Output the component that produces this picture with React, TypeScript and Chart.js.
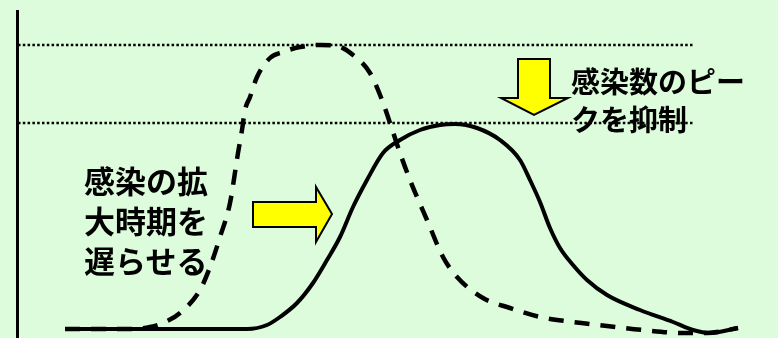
import React, { useEffect, useRef } from "react";
import { Chart, registerables } from "chart.js";

Chart.register(...registerables);

// Time (x) and number of infections (y) — arbitrary units
const noMeasuresX = [48, 83, 113, 133, 146, 163, 183, 193, 203, 213, 221, 225, 228, 233, 240, 253, 266, 283, 303, 320, 336, 353, 365, 373, 383, 393, 400, 410, 426, 440, 466, 493, 523, 556, 590, 626, 666, 690, 721];
const noMeasuresY = [9, 9, 9, 11, 15, 25, 48, 71, 101, 135, 185, 208, 228, 241, 261, 280, 286, 291, 293, 292, 283, 265, 238, 215, 185, 158, 141, 118, 81, 61, 40, 30, 21, 16, 12, 8, 5, 5, 10];

const withMeasuresX = [48, 133, 230, 250, 263, 280, 296, 310, 323, 336, 350, 366, 383, 403, 423, 438, 460, 483, 503, 513, 523, 533, 543, 556, 570, 590, 623, 656, 676, 693, 721];
const withMeasuresY = [9, 9, 9, 13, 21, 35, 55, 78, 101, 131, 158, 185, 198, 208, 213, 214, 210, 198, 178, 158, 136, 110, 90, 73, 58, 43, 28, 16, 8, 5, 10];

// Reference levels (peak without measures, peak with measures)
const referenceLevels = [293, 215];
const referenceXRange = [1, 676];

const leftText = ["感染の拡", "大時期を", "遅らせる"];
const rightText = ["感染数のピー", "クを抑制"];

// Arrow annotations in data units
const rightArrow = { x0: 236, x1: 299, tip: 315, yTop: 136, yBottom: 111, headTop: 151, headBottom: 96, tipY: 124 };
const downArrow = { x0: 501, x1: 533, headL: 484, headR: 551, tipX: 517, yTop: 279, yShaftEnd: 240, tipY: 223 };

const toPoints = (xs: number[], ys: number[]) => xs.map((x, i) => ({ x, y: ys[i] }));

const arrowPlugin = {
  id: "arrows",
  afterDatasetsDraw(chart: any) {
    const ctx = chart.ctx;
    const xs = chart.scales.x;
    const ys = chart.scales.y;
    const X = (v: number) => xs.getPixelForValue(v);
    const Y = (v: number) => ys.getPixelForValue(v);
    ctx.save();
    ctx.fillStyle = "#ffff00";
    ctx.strokeStyle = "#000000";
    ctx.lineWidth = 2;
    ctx.lineJoin = "miter";
    // right arrow
    const r = rightArrow;
    ctx.beginPath();
    ctx.moveTo(X(r.x0), Y(r.yTop));
    ctx.lineTo(X(r.x1), Y(r.yTop));
    ctx.lineTo(X(r.x1), Y(r.headTop));
    ctx.lineTo(X(r.tip), Y(r.tipY));
    ctx.lineTo(X(r.x1), Y(r.headBottom));
    ctx.lineTo(X(r.x1), Y(r.yBottom));
    ctx.lineTo(X(r.x0), Y(r.yBottom));
    ctx.closePath();
    ctx.fill();
    ctx.stroke();
    // down arrow
    const d = downArrow;
    ctx.beginPath();
    ctx.moveTo(X(d.x0), Y(d.yTop));
    ctx.lineTo(X(d.x1), Y(d.yTop));
    ctx.lineTo(X(d.x1), Y(d.yShaftEnd));
    ctx.lineTo(X(d.headR), Y(d.yShaftEnd));
    ctx.lineTo(X(d.tipX), Y(d.tipY));
    ctx.lineTo(X(d.headL), Y(d.yShaftEnd));
    ctx.lineTo(X(d.x0), Y(d.yShaftEnd));
    ctx.closePath();
    ctx.fill();
    ctx.stroke();
    ctx.restore();
  },
};

export default function App() {
  const ref = useRef<HTMLCanvasElement | null>(null);

  useEffect(() => {
    document.body.style.margin = "0";
    document.body.style.background = "#dcfcdc";
    const canvas = ref.current;
    if (!canvas) return;
    const chart = new Chart(canvas, {
      type: "line",
      data: {
        datasets: [
          ...referenceLevels.map((lvl) => ({
            data: toPoints(referenceXRange, [lvl, lvl]),
            borderColor: "#000000",
            borderWidth: 2.5,
            borderDash: [2.5, 2.3],
            pointRadius: 0,
            tension: 0,
          })),
          {
            data: toPoints(noMeasuresX, noMeasuresY),
            borderColor: "#000000",
            borderWidth: 4.5,
            borderDash: [15, 11],
            pointRadius: 0,
            cubicInterpolationMode: "monotone" as const,
          },
          {
            data: toPoints(withMeasuresX, withMeasuresY),
            borderColor: "#000000",
            borderWidth: 4,
            pointRadius: 0,
            cubicInterpolationMode: "monotone" as const,
          },
        ],
      },
      options: {
        animation: false,
        responsive: false,
        layout: { padding: { left: 17, top: 11, right: 0, bottom: 0 } },
        plugins: { legend: { display: false }, tooltip: { enabled: false } },
        scales: {
          x: { type: "linear", min: 0, max: 761, display: false },
          y: {
            type: "linear",
            min: 0,
            max: 327,
            grid: { display: false },
            ticks: { display: false },
            border: { display: true, color: "#000000", width: 3 },
            afterFit: (scale: any) => {
              scale.width = 0;
            },
          },
        },
      },
      plugins: [arrowPlugin],
    });
    return () => chart.destroy();
  }, []);

  const textStyle: React.CSSProperties = {
    position: "absolute",
    fontFamily: '"Noto Sans CJK JP", sans-serif',
    fontWeight: 700,
    color: "#000000",
    whiteSpace: "nowrap",
  };

  return (
    <div style={{ position: "absolute", left: 0, top: 0, width: 778, height: 338, background: "#dcfcdc", overflow: "hidden" }}>
      <canvas ref={ref} width={778} height={338} style={{ position: "absolute", left: 0, top: 0 }} />
      <div style={{ ...textStyle, left: 84, top: 160, fontSize: 31, lineHeight: "40px" }}>
        {leftText.map((t) => (
          <div key={t}>{t}</div>
        ))}
      </div>
      <div style={{ ...textStyle, left: 571, top: 61, fontSize: 29, lineHeight: "38px" }}>
        {rightText.map((t) => (
          <div key={t}>{t}</div>
        ))}
      </div>
    </div>
  );
}
